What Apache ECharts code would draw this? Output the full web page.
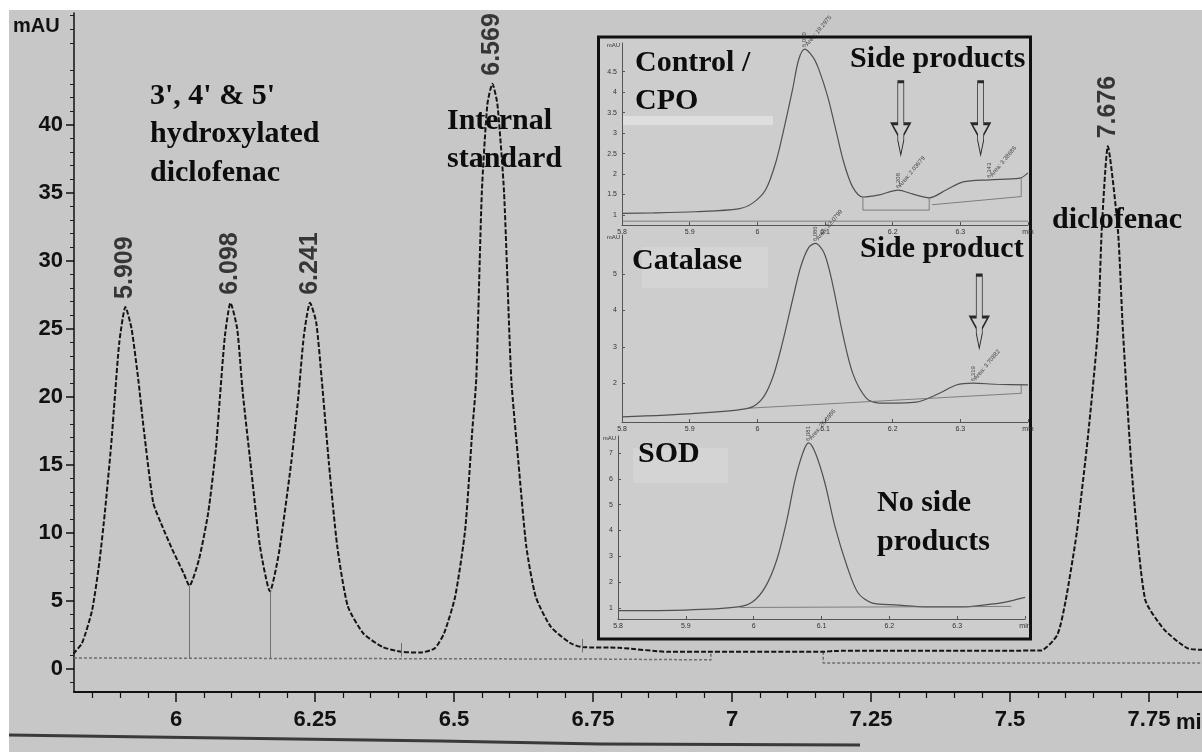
<!DOCTYPE html>
<html>
<head>
<meta charset="utf-8">
<title>Diclofenac HPLC</title>
<script src="https://cdn.jsdelivr.net/npm/echarts@6.0.0/dist/echarts.min.js"></script>
<style>
  html, body { margin: 0; padding: 0; background: #ffffff; }
  #main { position: absolute; left: 9px; top: 10px; width: 1193px; height: 742px; }
</style>
</head>
<body>
<div id="main"></div>
<script>
// main chromatogram: retention time (min) and absorbance (mAU)
var mainTimes = [5.815, 5.831, 5.849, 5.862, 5.872, 5.883, 5.890, 5.898, 5.909, 5.920, 5.932, 5.942, 5.959, 5.973, 5.993, 6.014, 6.024,
  6.041, 6.058, 6.072, 6.079, 6.088, 6.098, 6.110, 6.120, 6.134, 6.151, 6.169,
  6.185, 6.207, 6.220, 6.230, 6.241, 6.252, 6.262, 6.275, 6.290, 6.309, 6.337, 6.372, 6.406, 6.440, 6.465,
  6.482, 6.502, 6.520, 6.533, 6.540, 6.550, 6.560, 6.569, 6.578, 6.590, 6.603, 6.616, 6.630, 6.647, 6.674, 6.709, 6.730,
  6.797, 6.887, 7.164, 7.183, 7.555,
  7.585, 7.600, 7.620, 7.640, 7.658, 7.665, 7.676, 7.694, 7.703, 7.720, 7.743, 7.777, 7.820, 7.850];
var mainAbs = [1.1, 1.9, 4.3, 7.8, 11.5, 16.3, 20.0, 24.0, 26.6, 25.0, 21.3, 17.6, 12.2, 10.7, 8.8, 7.0, 6.1,
  8.0, 11.5, 16.3, 20.0, 24.5, 26.9, 25.0, 20.3, 15.1, 9.0, 5.7,
  8.5, 15.1, 20.0, 24.5, 26.9, 25.5, 21.3, 15.1, 9.0, 4.6, 2.6, 1.6, 1.25, 1.2, 1.5,
  2.6, 5.3, 10.2, 17.6, 21.3, 35.0, 41.5, 43.0, 41.5, 35.0, 21.3, 15.1, 9.0, 5.3, 3.1, 1.9, 1.6,
  1.55, 1.25, 1.25, 1.32, 1.35,
  2.5, 5.0, 10.0, 17.0, 24.9, 32.3, 38.4, 32.3, 24.9, 14.0, 5.1, 2.9, 1.5, 1.4];

var peakTimes = [5.909, 6.098, 6.241, 6.569, 7.676];
var peakHeights = [26.6, 26.9, 26.9, 43.0, 38.4];
var peakNames = ['5.909', '6.098', '6.241', '6.569', '7.676'];

// integration: drop lines at the valleys and baselines (null = gap)
var valleyTimes = [6.024, 6.169];
var valleyAbs = [6.1, 5.7];
var dropBase = 0.8;
var integTickTimes = [6.405, 6.731];
var integTickLow = [0.9, 1.2];
var integTickHigh = [1.9, 2.2];
var baseTimes = [5.8165, 6.76, 6.962, 6.962, null, 7.164, 7.164, 7.845];
var baseAbs = [0.8, 0.72, 0.66, 1.2, null, 1.25, 0.44, 0.44];

var xTicks = [6, 6.25, 6.5, 6.75, 7, 7.25, 7.5, 7.75];
var yTicks = [0, 5, 10, 15, 20, 25, 30, 35, 40];

// inset runs
var cpoTimes = [5.800, 5.846, 5.908, 5.972, 5.993, 6.012, 6.027, 6.039, 6.052, 6.061, 6.070, 6.082, 6.091, 6.104, 6.116, 6.128,
  6.141, 6.156, 6.180, 6.208, 6.230, 6.254, 6.279, 6.304, 6.343, 6.388, 6.400];
var cpoAbs = [1.04, 1.05, 1.08, 1.15, 1.29, 1.61, 2.27, 3.08, 4.06, 4.79, 5.05, 4.86, 4.55, 3.89, 3.08, 2.27,
  1.68, 1.44, 1.49, 1.61, 1.51, 1.42, 1.61, 1.81, 1.86, 1.90, 2.03];
var catTimes = [5.800, 5.908, 5.987, 6.008, 6.023, 6.037, 6.052, 6.064, 6.076, 6.086, 6.099, 6.111, 6.126, 6.141, 6.161,
  6.180, 6.235, 6.269, 6.294, 6.319, 6.353, 6.400];
var catAbs = [1.07, 1.17, 1.31, 1.59, 2.17, 3.10, 4.29, 5.20, 5.74, 5.85, 5.57, 4.75, 3.37, 2.27, 1.59,
  1.45, 1.48, 1.72, 1.95, 2.00, 1.97, 1.95];
var sodTimes = [5.800, 5.899, 5.977, 5.998, 6.017, 6.034, 6.049, 6.061, 6.073, 6.081, 6.091, 6.105, 6.120, 6.138, 6.154,
  6.175, 6.209, 6.257, 6.307, 6.341, 6.371, 6.400];
var sodAbs = [0.90, 0.92, 1.04, 1.23, 1.81, 2.86, 4.41, 5.96, 7.04, 7.39, 7.00, 5.84, 4.14, 2.59, 1.58,
  1.19, 1.12, 1.04, 1.04, 1.12, 1.23, 1.41];

var cpoBaseTimes = [6.156, 6.156, 6.254, 6.254, null, 6.258, 6.39, 6.39, null, 5.80, 6.40];
var cpoBaseAbs = [1.44, 1.12, 1.12, 1.42, null, 1.25, 1.45, 1.90, null, 0.85, 0.85];
var catBaseTimes = [5.987, 6.39, 6.39];
var catBaseAbs = [1.31, 1.72, 1.95];
var sodBaseTimes = [5.98, 6.38];
var sodBaseAbs = [1.02, 1.06];

var cpoMarkTimes = [6.070, 6.208, 6.343];
var cpoMarkAbs = [5.05, 1.61, 1.86];
var cpoAreas = ['Area: 19.2975', 'Area: 2.03679', 'Area: 3.38686'];
var catMarkTimes = [6.086, 6.319];
var catMarkAbs = [5.85, 2.00];
var catAreas = ['Area: 23.0799', 'Area: 3.70882'];
var sodMarkTimes = [6.081];
var sodMarkAbs = [7.39];
var sodAreas = ['Area: 26.8986'];

var cpoArrowTimes = [6.212, 6.330];
var cpoArrowAbs = [3.36, 3.36];
var catArrowTimes = [6.328];
var catArrowAbs = [3.97];

var insetXTicks = [5.8, 5.9, 6, 6.1, 6.2, 6.3, 6.4];
var cpoYTicks = [1, 1.5, 2, 2.5, 3, 3.5, 4, 4.5];
var catYTicks = [2, 3, 4, 5];
var sodYTicks = [1, 2, 3, 4, 5, 6, 7];

var NUM_FONT = '"Liberation Sans", Arial, sans-serif';
var ANN_FONT = '"Liberation Serif", "Times New Roman", serif';
var ARROW = 'path://M6,0 L12,0 L12,46 L18,46 L12,58 L12,64 L9,80 L6,64 L6,58 L0,46 L6,46 Z';

function pairs(xs, ys) {
    return xs.map(function (x, i) {
        return x === null ? ['-', '-'] : [x, ys[i]];
    });
}

function fmtNum(v) {
    return String(Math.round(v * 100) / 100);
}

// minor tick positions
var xMinor = [];
for (var k = 117; k <= 156; k++) {
    if (k % 5 !== 0) xMinor.push(k / 20);
}
var yMinor = [];
for (var j = -1; j <= 48; j++) {
    if (j % 5 !== 0) yMinor.push(j);
}

var chart = echarts.init(document.getElementById('main'));

function insetX(gi) {
    return {
        type: 'value', gridIndex: gi, min: 5.8, max: 6.4, position: 'bottom', z: 20,
        axisLine: { show: true, onZero: false, lineStyle: { color: '#555', width: 1 } },
        axisTick: { show: true, inside: true, length: 3, customValues: insetXTicks, lineStyle: { color: '#555' } },
        axisLabel: {
            customValues: insetXTicks, fontSize: 7, color: '#333', margin: 4,
            formatter: function (v) { return v > 6.35 ? 'min' : fmtNum(v); }
        },
        splitLine: { show: false }
    };
}

function insetY(gi, lo, hi, ticks) {
    return {
        type: 'value', gridIndex: gi, min: lo, max: hi, position: 'left', z: 20,
        name: 'mAU', nameLocation: 'end', nameGap: 1,
        nameTextStyle: { fontSize: 6, color: '#333', align: 'right', verticalAlign: 'top', padding: [0, 2, 0, 0] },
        axisLine: { show: true, onZero: false, lineStyle: { color: '#555', width: 1 } },
        axisTick: { show: true, inside: true, length: 3, customValues: ticks, lineStyle: { color: '#555' } },
        axisLabel: { customValues: ticks, fontSize: 7, color: '#333', margin: 5, formatter: fmtNum },
        splitLine: { show: false }
    };
}

function insetCurve(gi, xs, ys) {
    return {
        type: 'line', xAxisIndex: gi, yAxisIndex: gi, data: pairs(xs, ys), symbol: 'none', smooth: 0.3, z: 20,
        lineStyle: { color: '#505050', width: 1.2 }, silent: true
    };
}

function insetBase(gi, xs, ys) {
    return {
        type: 'line', xAxisIndex: gi, yAxisIndex: gi, data: pairs(xs, ys), symbol: 'none', z: 20,
        lineStyle: { color: '#6a6a6a', width: 0.8 }, silent: true
    };
}

function insetMarks(gi, xs, ys, areas) {
    var data = xs.map(function (x, i) { return { value: [x, ys[i]], name: areas[i], rt: x.toFixed(3) }; });
    return [{
        type: 'scatter', xAxisIndex: gi, yAxisIndex: gi, data: data, symbolSize: 0, z: 22, silent: true,
        label: {
            show: true, position: [4, -2], rotate: 50, align: 'left', verticalAlign: 'bottom',
            fontSize: 6, color: '#222', formatter: '{b}'
        }
    }, {
        type: 'scatter', xAxisIndex: gi, yAxisIndex: gi, data: data, symbolSize: 0, z: 22, silent: true,
        label: {
            show: true, position: 'top', distance: 2, rotate: 90, align: 'left', verticalAlign: 'middle',
            fontSize: 6, color: '#222', formatter: function (p) { return p.data.rt; }
        }
    }];
}

function arrows(gi, xs, ys) {
    return {
        type: 'scatter', xAxisIndex: gi, yAxisIndex: gi, data: pairs(xs, ys), z: 25, silent: true,
        symbol: ARROW, symbolSize: [18, 73],
        itemStyle: { color: '#cdcdcd', borderColor: '#000', borderWidth: 1.5 }
    };
}

function annText(text, x, y) {
    return {
        type: 'text', x: x, y: y, z: 30, silent: true,
        style: { text: text, font: 'bold 30px ' + ANN_FONT, fill: '#0d0d0d', align: 'left', verticalAlign: 'middle' }
    };
}

var series = [
    {
        // main trace
        type: 'line', xAxisIndex: 0, yAxisIndex: 0, data: pairs(mainTimes, mainAbs),
        symbol: 'none', smooth: 0.2, z: 3, silent: true,
        lineStyle: { color: '#151515', width: 2, type: [5, 2] }
    },
    {
        // integration baseline + drop lines
        type: 'line', xAxisIndex: 0, yAxisIndex: 0, data: pairs(baseTimes, baseAbs),
        symbol: 'none', z: 2, silent: true,
        lineStyle: { color: '#6e6e6e', width: 1.5, type: [3, 2] },
        markLine: {
            silent: true, symbol: 'none', label: { show: false },
            lineStyle: { color: '#707070', width: 1, type: 'solid' },
            data: valleyTimes.map(function (t, i) {
                return [{ coord: [t, valleyAbs[i]] }, { coord: [t, dropBase] }];
            }).concat(integTickTimes.map(function (t, i) {
                return [{ coord: [t, integTickLow[i]] }, { coord: [t, integTickHigh[i]] }];
            }))
        }
    },
    {
        // retention time labels
        type: 'scatter', xAxisIndex: 0, yAxisIndex: 0, symbolSize: 0, z: 4, silent: true,
        data: peakTimes.map(function (t, i) { return { value: [t, peakHeights[i]], name: peakNames[i] }; }),
        label: {
            show: true, position: 'top', distance: 8, rotate: 90, align: 'left', verticalAlign: 'middle',
            formatter: '{b}', fontFamily: NUM_FONT, fontWeight: 'bold',
            fontSize: 25, color: '#111'
        }
    },
    insetCurve(2, cpoTimes, cpoAbs),
    insetCurve(3, catTimes, catAbs),
    insetCurve(4, sodTimes, sodAbs),
    insetBase(2, cpoBaseTimes, cpoBaseAbs),
    insetBase(3, catBaseTimes, catBaseAbs),
    insetBase(4, sodBaseTimes, sodBaseAbs),
    arrows(2, cpoArrowTimes, cpoArrowAbs),
    arrows(3, catArrowTimes, catArrowAbs)
].concat(insetMarks(2, cpoMarkTimes, cpoMarkAbs, cpoAreas))
 .concat(insetMarks(3, catMarkTimes, catMarkAbs, catAreas))
 .concat(insetMarks(4, sodMarkTimes, sodMarkAbs, sodAreas));

var option = {
    animation: false,
    backgroundColor: '#c7c7c7',
    grid: [
        { left: 65, top: 3, right: 0, bottom: 60 },
        { left: 65, top: 3, right: 0, bottom: 60 },
        { left: 613, top: 33, right: 174, bottom: 527 },
        { left: 613, top: 225, right: 174, bottom: 330 },
        { left: 609, top: 426, right: 177, bottom: 133 }
    ],
    xAxis: [
        {
            type: 'value', gridIndex: 0, min: 5.8165, max: 7.8453, position: 'bottom',
            axisLine: { show: true, onZero: false, lineStyle: { color: '#111', width: 2 } },
            axisTick: { show: true, length: 10, customValues: xTicks, lineStyle: { color: '#111', width: 1.5 } },
            axisLabel: {
                customValues: xTicks, formatter: fmtNum, margin: 17,
                fontFamily: NUM_FONT, fontWeight: 'bold', fontSize: 22, color: '#111'
            },
            splitLine: { show: false }
        },
        {
            type: 'value', gridIndex: 1, min: 5.8165, max: 7.8453, position: 'bottom',
            axisLine: { show: false, onZero: false },
            axisTick: { show: true, length: 6, customValues: xMinor, lineStyle: { color: '#111', width: 1.2 } },
            axisLabel: { show: false },
            splitLine: { show: false }
        },
        insetX(2), insetX(3), insetX(4)
    ],
    yAxis: [
        {
            type: 'value', gridIndex: 0, min: -1.7, max: 48.2, position: 'left',
            axisLine: { show: true, onZero: false, lineStyle: { color: '#111', width: 1.5 } },
            axisTick: { show: true, length: 8, customValues: yTicks, lineStyle: { color: '#111', width: 1.5 } },
            axisLabel: {
                customValues: yTicks, formatter: fmtNum, margin: 11,
                fontFamily: NUM_FONT, fontWeight: 'bold', fontSize: 22, color: '#111'
            },
            splitLine: { show: false }
        },
        {
            type: 'value', gridIndex: 1, min: -1.7, max: 48.2, position: 'left',
            axisLine: { show: false, onZero: false },
            axisTick: { show: true, length: 4, customValues: yMinor, lineStyle: { color: '#222', width: 1 } },
            axisLabel: { show: false },
            splitLine: { show: false }
        },
        insetY(2, 0.756, 5.2, cpoYTicks),
        insetY(3, 0.93, 6.08, catYTicks),
        insetY(4, 0.574, 7.66, sodYTicks)
    ],
    graphic: [
        // inset frame
        {
            type: 'rect', z: 10, silent: true,
            shape: { x: 589.5, y: 27, width: 432, height: 602 },
            style: { fill: '#cdcdcd', stroke: '#111', lineWidth: 3 }
        },
        { type: 'rect', z: 11, silent: true, shape: { x: 613, y: 106, width: 151, height: 9 }, style: { fill: '#dedede' } },
        { type: 'rect', z: 11, silent: true, shape: { x: 633, y: 237, width: 126, height: 41 }, style: { fill: '#d4d4d4' } },
        { type: 'rect', z: 11, silent: true, shape: { x: 624, y: 438, width: 95, height: 35 }, style: { fill: '#d4d4d4' } },
        // scanned strip under the axis
        {
            type: 'polyline', z: 5, silent: true,
            shape: { points: [[0, 725], [141, 727], [431, 731], [591, 734], [851, 735]] },
            style: { stroke: '#3a3a3a', lineWidth: 3, fill: null }
        },
        {
            type: 'text', x: 4, y: 16, z: 30, silent: true,
            style: { text: 'mAU', font: 'bold 20px ' + NUM_FONT, fill: '#111', align: 'left', verticalAlign: 'middle' }
        },
        {
            type: 'text', x: 1167, y: 713, z: 30, silent: true,
            style: { text: 'min', font: 'bold 22px ' + NUM_FONT, fill: '#111', align: 'left', verticalAlign: 'middle' }
        },
        annText("3', 4' & 5'", 141, 86),
        annText('hydroxylated', 141, 124),
        annText('diclofenac', 141, 163),
        annText('Internal', 438, 111),
        annText('standard', 438, 149),
        annText('Control /', 626, 53),
        annText('CPO', 626, 91),
        annText('Side products', 841, 49),
        annText('Catalase', 623, 251),
        annText('Side product', 851, 239),
        annText('SOD', 629, 444),
        annText('No side', 868, 493),
        annText('products', 868, 532),
        annText('diclofenac', 1043, 210)
    ],
    series: series
};

chart.setOption(option);
</script>
</body>
</html>
